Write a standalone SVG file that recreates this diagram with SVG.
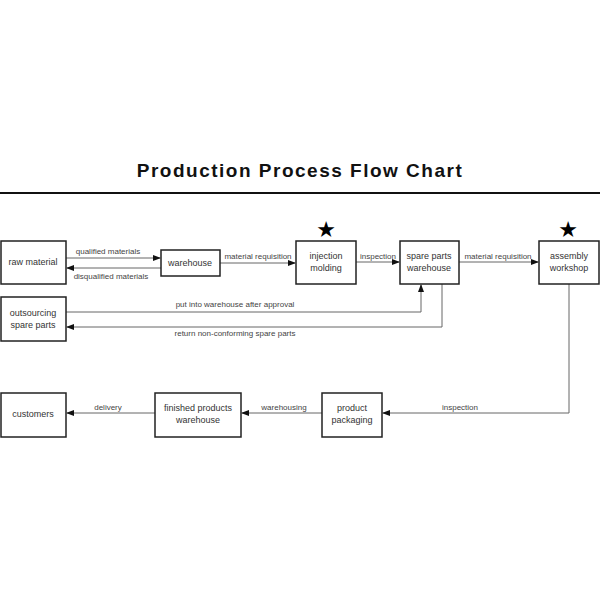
<svg xmlns="http://www.w3.org/2000/svg" width="600" height="600" viewBox="0 0 600 600">
<style>
.b{fill:#fff;stroke:#222;stroke-width:1.5}
.t{font-family:"Liberation Sans Narrow","Liberation Sans",sans-serif;font-size:9px;fill:#333;text-anchor:middle}
.l{font-family:"Liberation Sans Narrow","Liberation Sans",sans-serif;font-size:8px;fill:#444;text-anchor:middle}
.c{fill:none;stroke:#666;stroke-width:1}
</style>
<defs><marker id="a" markerWidth="8" markerHeight="6" refX="7" refY="3" orient="auto" markerUnits="userSpaceOnUse"><path d="M0,0L8,3L0,6z" fill="#111"/></marker></defs>
<text x="300" y="177" font-family="Liberation Sans,sans-serif" font-weight="bold" font-size="19" letter-spacing="1.5" text-anchor="middle" fill="#111">Production Process Flow Chart</text>
<line x1="0" y1="193" x2="600" y2="193" stroke="#111" stroke-width="2"/>
<g id="connectors">
<path class="c" d="M66,258H160" marker-end="url(#a)"/>
<path class="c" d="M161,268H67" marker-end="url(#a)"/>
<path class="c" d="M220,263H295" marker-end="url(#a)"/>
<path class="c" d="M356,262H399" marker-end="url(#a)"/>
<path class="c" d="M459,262H538" marker-end="url(#a)"/>
<path class="c" d="M66,312H421V285" marker-end="url(#a)"/>
<path class="c" d="M442,284V327H67" marker-end="url(#a)"/>
<path class="c" d="M569,284V413H383" marker-end="url(#a)"/>
<path class="c" d="M322,413H242" marker-end="url(#a)"/>
<path class="c" d="M155,413H67" marker-end="url(#a)"/>
<text class="l" x="108" y="254">qualified materials</text>
<text class="l" x="111" y="279">disqualified materials</text>
<text class="l" x="258" y="259">material requisition</text>
<text class="l" x="378" y="259">inspection</text>
<text class="l" x="498" y="259">material requisition</text>
<text class="l" x="235" y="307">put into warehouse after approval</text>
<text class="l" x="235" y="336">return non-conforming spare parts</text>
<text class="l" x="460" y="410">inspection</text>
<text class="l" x="284" y="410">warehousing</text>
<text class="l" x="108" y="410">delivery</text>
</g>
<g id="raw"><rect class="b" x="1" y="241" width="65" height="43"/><text class="t" x="33" y="265">raw material</text></g>
<g id="wh"><rect class="b" x="161" y="250" width="59" height="26"/><text class="t" x="190" y="266">warehouse</text></g>
<g id="inj"><rect class="b" x="296" y="241" width="60" height="43"/><text class="t" x="326" y="259">injection</text><text class="t" x="326" y="271">molding</text><text x="326" y="237" font-size="22" text-anchor="middle" font-family="DejaVu Sans,sans-serif">★</text></g>
<g id="spw"><rect class="b" x="400" y="241" width="59" height="43"/><text class="t" x="429" y="259">spare parts</text><text class="t" x="429" y="271">warehouse</text></g>
<g id="asm"><rect class="b" x="539" y="241" width="60" height="43"/><text class="t" x="569" y="259">assembly</text><text class="t" x="569" y="271">workshop</text><text x="568" y="237" font-size="22" text-anchor="middle" font-family="DejaVu Sans,sans-serif">★</text></g>
<g id="out"><rect class="b" x="1" y="297" width="65" height="44"/><text class="t" x="33" y="316">outsourcing</text><text class="t" x="33" y="328">spare parts</text></g>
<g id="cust"><rect class="b" x="1" y="393" width="65" height="44"/><text class="t" x="33" y="417">customers</text></g>
<g id="fpw"><rect class="b" x="155" y="393" width="86" height="44"/><text class="t" x="198" y="411">finished products</text><text class="t" x="198" y="423">warehouse</text></g>
<g id="pp"><rect class="b" x="322" y="393" width="60" height="44"/><text class="t" x="352" y="411">product</text><text class="t" x="352" y="423">packaging</text></g>
</svg>
